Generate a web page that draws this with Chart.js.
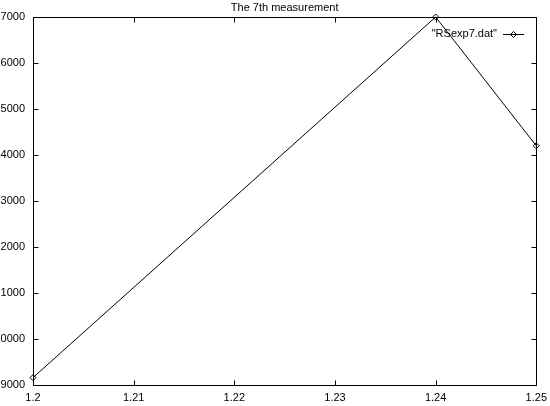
<!DOCTYPE html>
<html>
<head>
<meta charset="utf-8">
<script src="https://cdn.jsdelivr.net/npm/chart.js@4/dist/chart.umd.min.js"></script>
<style>
  html, body { margin: 0; padding: 0; background: #fff; }
  #frame { position: relative; width: 550px; height: 406px; overflow: hidden; background: #fff; }
  /* the canvas starts a little left of the window, as in the original plot */
  #plot { position: absolute; left: -10px; top: 0; }
</style>
</head>
<body>
<div id="frame"><canvas id="plot" width="563" height="406"></canvas></div>
<script>
// RSexp7.dat
const seriesLabel = '"RSexp7.dat"';
const xValues = [1.2, 1.24, 1.25];
const yValues = [19160, 27000, 24200];

const xMin = 1.2, xMax = 1.25, xStep = 0.01;
const yMin = 19000, yMax = 27000, yStep = 1000;

const FONT = 'Liberation Sans, Arial, sans-serif';
const TICK_LEN = 5;

// gnuplot-style frame, inward mirrored tics and key
const gnuplotFrame = {
  id: 'gnuplotFrame',
  afterDatasetsDraw(chart) {
    const { ctx, chartArea: a, scales } = chart;
    ctx.save();
    ctx.strokeStyle = '#000';
    ctx.lineWidth = 1;
    const L = Math.round(a.left) + 0.5, R = Math.round(a.right) + 0.5;
    const T = Math.round(a.top) + 0.5, B = Math.round(a.bottom) + 0.5;
    ctx.beginPath();
    ctx.rect(L, T, R - L, B - T);
    ctx.stroke();

    ctx.beginPath();
    scales.x.ticks.forEach(t => {
      const px = Math.round(scales.x.getPixelForValue(t.value)) + 0.5;
      ctx.moveTo(px, B); ctx.lineTo(px, B - TICK_LEN);
      ctx.moveTo(px, T); ctx.lineTo(px, T + TICK_LEN);
    });
    scales.y.ticks.forEach(t => {
      const py = Math.round(scales.y.getPixelForValue(t.value)) + 0.5;
      ctx.moveTo(L, py); ctx.lineTo(L + TICK_LEN, py);
      ctx.moveTo(R, py); ctx.lineTo(R - TICK_LEN, py);
    });
    ctx.stroke();

    // key in the upper right corner
    const ds = chart.data.datasets[0];
    const ky = 34;
    const sampleL = 513, sampleR = 534;
    ctx.font = '11px ' + FONT;
    ctx.fillStyle = '#000';
    ctx.textAlign = 'right';
    ctx.textBaseline = 'middle';
    ctx.fillText(ds.label, 507, ky);
    ctx.beginPath();
    ctx.moveTo(sampleL, ky + 0.5); ctx.lineTo(sampleR, ky + 0.5);
    ctx.stroke();
    const cx = (sampleL + sampleR) / 2, r = 3;
    ctx.beginPath();
    ctx.moveTo(cx, ky + 0.5 - r); ctx.lineTo(cx + r, ky + 0.5);
    ctx.lineTo(cx, ky + 0.5 + r); ctx.lineTo(cx - r, ky + 0.5);
    ctx.closePath();
    ctx.stroke();
    ctx.restore();
  }
};

new Chart(document.getElementById('plot'), {
  type: 'line',
  data: {
    datasets: [{
      label: seriesLabel,
      data: xValues.map((x, i) => ({ x, y: yValues[i] })),
      borderColor: '#000',
      borderWidth: 1,
      pointStyle: 'rectRot',
      pointRadius: 3,
      pointBorderWidth: 1,
      pointBorderColor: '#000',
      pointBackgroundColor: 'rgba(0,0,0,0)',
      tension: 0,
      clip: false
    }]
  },
  options: {
    responsive: false,
    animation: false,
    devicePixelRatio: 1,
    layout: { padding: { left: 0, right: 10, top: 0, bottom: 0 } },
    plugins: {
      legend: { display: false },
      tooltip: { enabled: false },
      title: {
        display: true,
        text: 'The 7th measurement',
        fullSize: false,
        color: '#000',
        font: { family: FONT, size: 11, weight: 'normal', lineHeight: 1 },
        padding: { top: 2, bottom: 4 }
      }
    },
    scales: {
      x: {
        type: 'linear',
        min: xMin, max: xMax,
        grid: { display: false, drawTicks: false },
        border: { display: false },
        ticks: {
          stepSize: xStep,
          padding: 6,
          maxRotation: 0,
          autoSkip: false,
          color: '#000',
          font: { family: FONT, size: 11 },
          callback: v => String(+Number(v).toFixed(2))
        },
        afterFit(s) { s.height = 21; }
      },
      y: {
        type: 'linear',
        min: yMin, max: yMax,
        grid: { display: false, drawTicks: false },
        border: { display: false },
        ticks: {
          stepSize: yStep,
          padding: 8,
          color: '#000',
          font: { family: FONT, size: 11 },
          callback: v => String(v)
        },
        afterFit(s) { s.width = 43; }
      }
    }
  },
  plugins: [gnuplotFrame]
});
</script>
</body>
</html>
